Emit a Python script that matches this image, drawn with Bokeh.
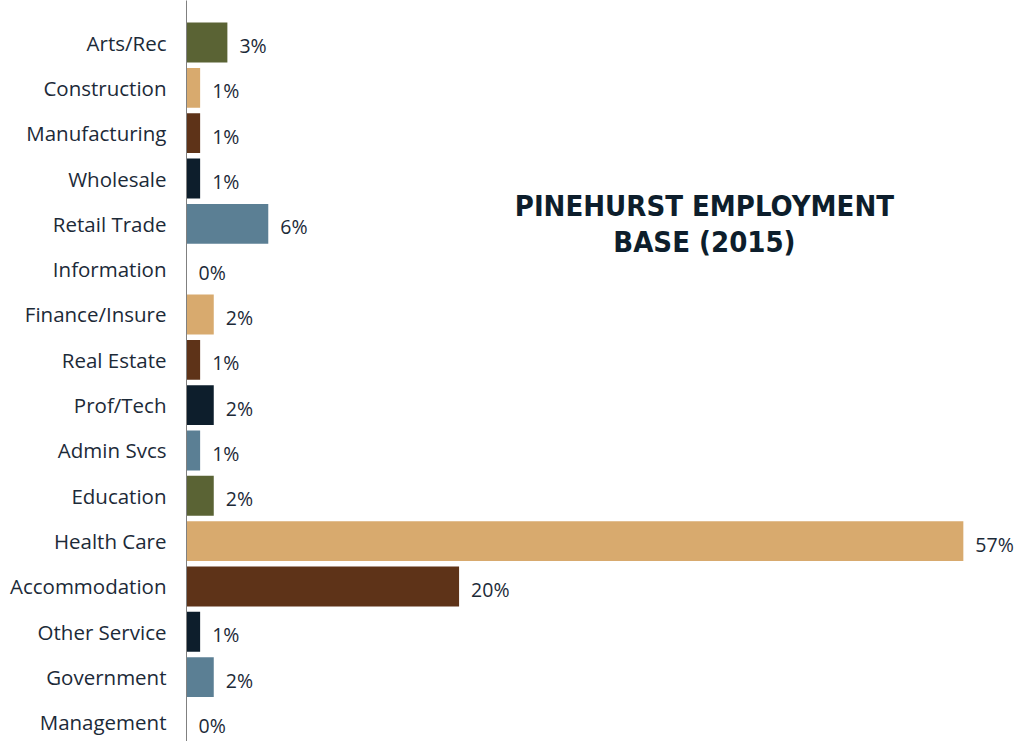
from bokeh.plotting import figure
from bokeh.models import ColumnDataSource, Range1d, FixedTicker, Label
from bokeh.embed import file_html
from bokeh.resources import INLINE

categories = ["Arts/Rec", "Construction", "Manufacturing", "Wholesale", "Retail Trade",
              "Information", "Finance/Insure", "Real Estate", "Prof/Tech", "Admin Svcs",
              "Education", "Health Care", "Accommodation", "Other Service", "Government",
              "Management"]
values = [3, 1, 1, 1, 6, 0, 2, 1, 2, 1, 2, 57, 20, 1, 2, 0]
value_labels = ["3%", "1%", "1%", "1%", "6%", "0%", "2%", "1%", "2%", "1%", "2%",
                "57%", "20%", "1%", "2%", "0%"]
palette = ["#5a6334", "#d8aa6e", "#5e3318", "#0d1e2c", "#5b7f94"]

idx = list(range(len(categories)))
colors = [palette[i % len(palette)] for i in idx]

src = ColumnDataSource(dict(y=idx, v=values, lab=value_labels, c=colors))

p = figure(width=1016, height=741, output_backend="svg", toolbar_location=None,
           x_range=Range1d(0, 60.9), y_range=Range1d(15.42, -0.927),
           min_border_left=186, min_border_right=0, min_border_top=0, min_border_bottom=0)
p.outline_line_color = None
p.grid.visible = False
p.xaxis.visible = False

p.hbar(y="y", right="v", left=0, height=0.88, color="c", line_color=None, source=src)
p.text(x="v", y="y", text="lab", source=src, x_offset=12, y_offset=3,
       text_baseline="middle", text_align="left", text_font_size="19.5px",
       text_color="#1c2a38", text_font={"value": "Open Sans"})

ax = p.yaxis[0]
ax.ticker = FixedTicker(ticks=idx)
ax.major_label_overrides = {i: c for i, c in zip(idx, categories)}
ax.major_tick_line_color = None
ax.minor_tick_line_color = None
ax.major_tick_out = 0
ax.major_tick_in = 0
ax.major_label_standoff = 20
ax.axis_line_color = "#808080"
ax.axis_line_width = 1
ax.major_label_text_font = "Open Sans"
ax.major_label_text_font_size = "20.5px"
ax.major_label_text_color = "#1c2a38"

for txt, yy in [("PINEHURST EMPLOYMENT", 3.6), ("BASE (2015)", 4.41)]:
    p.add_layout(Label(x=38.0, y=yy, text=txt, text_align="center", text_baseline="middle",
                       text_font="DejaVu Sans Condensed", text_font_style="bold",
                       text_font_size="29px", text_color="#0d1e2c"))

open("out.html", "w").write(file_html(p, INLINE))
